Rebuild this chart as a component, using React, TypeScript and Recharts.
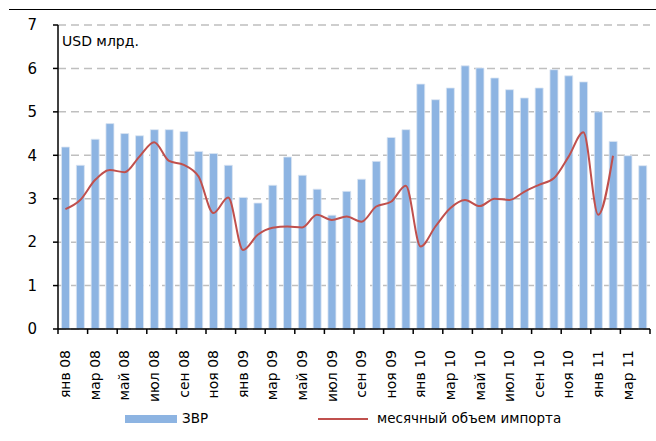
import * as React from "react";
import {
  ComposedChart,
  Bar,
  Line,
  XAxis,
  YAxis,
  CartesianGrid,
  Legend,
} from "recharts";

const months: string[] = [
  "янв 08", "фев 08", "мар 08", "апр 08", "май 08", "июн 08", "июл 08", "авг 08", "сен 08", "окт 08", "ноя 08", "дек 08",
  "янв 09", "фев 09", "мар 09", "апр 09", "май 09", "июн 09", "июл 09", "авг 09", "сен 09", "окт 09", "ноя 09", "дек 09",
  "янв 10", "фев 10", "мар 10", "апр 10", "май 10", "июн 10", "июл 10", "авг 10", "сен 10", "окт 10", "ноя 10", "дек 10",
  "янв 11", "фев 11", "мар 11", "апр 11",
];

// ЗВР
const reserves: number[] = [
  4.19, 3.77, 4.37, 4.73, 4.5, 4.45, 4.59, 4.59, 4.55, 4.09, 4.04, 3.77,
  3.03, 2.9, 3.31, 3.96, 3.54, 3.22, 2.62, 3.17, 3.45, 3.86, 4.41, 4.59,
  5.64, 5.28, 5.55, 6.06, 6.01, 5.78, 5.51, 5.32, 5.55, 5.97, 5.83, 5.69,
  5.0, 4.32, 3.99, 3.76,
];

// месячный объем импорта
const imports: (number | null)[] = [
  2.76, 2.97, 3.43, 3.66, 3.61, 3.97, 4.3, 3.87, 3.78, 3.51, 2.67, 3.03,
  1.82, 2.17, 2.33, 2.36, 2.34, 2.63, 2.51, 2.59, 2.47, 2.82, 2.93, 3.3,
  1.9, 2.36, 2.78, 2.97, 2.83, 3.0, 2.97, 3.16, 3.32, 3.47, 3.97, 4.53,
  2.63, 3.99, null, null,
];

const yTicks: number[] = [0, 1, 2, 3, 4, 5, 6, 7];

const data = months.map((m, i) => ({ month: m, zvr: reserves[i], imp: imports[i] }));

const font = "'DejaVu Sans', sans-serif";
const BAND = 592 / months.length;

const MonthTick = (props: any) => {
  const { x, y, payload } = props;
  const ty = y + 21;
  return (
    <g>
      <line x1={x - BAND / 2} y1={y} x2={x - BAND / 2} y2={y + 5} stroke="#000" strokeWidth={1.5} />
      {payload.index === 38 && (
        <line x1={x + BAND * 1.5} y1={y} x2={x + BAND * 1.5} y2={y + 5} stroke="#000" strokeWidth={1.5} />
      )}
      <text
        x={x}
        y={ty}
        dy="0.35em"
        textAnchor="end"
        transform={`rotate(-90, ${x}, ${ty})`}
        fontSize={14}
        fontFamily={font}
        fill="#000"
      >
        {payload.value}
      </text>
    </g>
  );
};

const LegendBox = () => (
  <div style={{ position: "relative", height: 20, fontFamily: font, fontSize: 13.5, color: "#000" }}>
    <div style={{ position: "absolute", left: 125, top: 6, width: 52, height: 8, background: "#8DB4E2" }} />
    <div style={{ position: "absolute", left: 182, top: 1 }}>ЗВР</div>
    <div style={{ position: "absolute", left: 318, top: 9, width: 50, height: 2, background: "#C0504D" }} />
    <div style={{ position: "absolute", left: 377, top: 1 }}>месячный объем импорта</div>
  </div>
);

export default function App() {
  return (
    <div style={{ position: "absolute", left: 0, top: 0, width: 656, height: 441, background: "#fff" }}>
      <div style={{ position: "absolute", left: 9, top: 9, width: 647, height: 1, background: "#000" }} />
      <div
        style={{
          position: "absolute",
          left: 62,
          top: 33,
          fontFamily: font,
          fontSize: 14,
          color: "#000",
          zIndex: 2,
        }}
      >
        USD млрд.
      </div>
      <ComposedChart
        width={656}
        height={441}
        data={data}
        margin={{ top: 25, right: 6, bottom: 0, left: 0 }}
        barCategoryGap="24%"
      >
        <CartesianGrid vertical={false} stroke="#BFBFBF" strokeWidth={1.5} strokeDasharray="8 5" />
        <XAxis
          dataKey="month"
          interval={1}
          tickLine={false}
          tickSize={0}
          tickMargin={0}
          height={80}
          axisLine={{ stroke: "#000", strokeWidth: 1.5 }}
          tick={<MonthTick />}
        />
        <YAxis
          domain={[0, 7]}
          ticks={yTicks}
          width={58}
          tickSize={5}
          tickMargin={16}
          axisLine={{ stroke: "#000", strokeWidth: 1.5 }}
          tickLine={{ stroke: "#000", strokeWidth: 1.5 }}
          tick={{ fill: "#000", fontSize: 15, fontFamily: font }}
        />
        <Legend verticalAlign="bottom" height={32} content={<LegendBox />} />
        <Bar dataKey="zvr" fill="#8DB4E2" stroke="#DCE6F2" strokeWidth={0.8} isAnimationActive={false} />
        <Line
          dataKey="imp"
          type="monotone"
          stroke="#C0504D"
          strokeWidth={2}
          dot={false}
          activeDot={false}
          connectNulls={false}
          isAnimationActive={false}
        />
      </ComposedChart>
    </div>
  );
}
